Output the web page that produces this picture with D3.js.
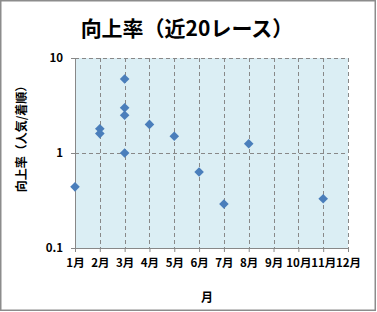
<!DOCTYPE html>
<html>
<head>
<meta charset="utf-8">
<script src="https://cdn.jsdelivr.net/npm/d3@7"></script>
<style>
  body { margin: 0; background: #fff; }
  text { font-family: "Noto Sans CJK JP", "Noto Sans", sans-serif; font-weight: bold; fill: #000; }
</style>
</head>
<body>
<div id="chart"></div>
<script>
// data: month and ratio (popularity / finish)
var months = [1, 2, 2, 3, 3, 3, 3, 4, 5, 6, 7, 8, 11];
var ratios = [0.44, 1.8, 1.6, 6, 3, 2.5, 1, 2, 1.5, 0.63, 0.29, 1.25, 0.33];
var monthTicks = [1, 2, 3, 4, 5, 6, 7, 8, 9, 10, 11, 12];
var yTicks = [0.1, 1, 10];
var yTickLabels = ["0.1", "1", "10"];

var W = 377, H = 312;
var margin = {top: 58, right: 29, bottom: 64, left: 75},
    width = W - margin.left - margin.right,
    height = H - margin.top - margin.bottom;

var svg = d3.select("#chart").append("svg")
    .attr("width", W)
    .attr("height", H);

// outer frame
svg.append("rect")
    .attr("x", 0.75).attr("y", 0.75)
    .attr("width", 374.5).attr("height", 309.5)
    .attr("fill", "#fff")
    .attr("stroke", "#8c8c8c")
    .attr("stroke-width", 1.5);

svg.append("text") // Title
    .attr("x", 187)
    .attr("y", 36)
    .attr("text-anchor", "middle")
    .style("font-size", "21px")
    .text("向上率（近20レース）");

var g = svg.append("g")
    .attr("transform", "translate(" + margin.left + "," + margin.top + ")");

var x = d3.scaleLinear().domain([1, 12]).range([0, width]);
var y = d3.scaleLog().domain([0.1, 10]).range([height, 0]);

g.append("rect")
    .attr("width", width)
    .attr("height", height)
    .attr("fill", "#dbeef4");

// dashed grid
g.selectAll(".vgrid").data(monthTicks.slice(1))
    .enter().append("line")
    .attr("class", "vgrid")
    .attr("x1", function(d) { return Math.round(x(d)) + 0.5; })
    .attr("x2", function(d) { return Math.round(x(d)) + 0.5; })
    .attr("y1", 0).attr("y2", height)
    .attr("stroke", "#888")
    .attr("stroke-dasharray", "4,3");

g.selectAll(".hgrid").data(yTicks.slice(1))
    .enter().append("line")
    .attr("class", "hgrid")
    .attr("x1", 0).attr("x2", width)
    .attr("y1", function(d) { return Math.round(y(d)) + 0.5; })
    .attr("y2", function(d) { return Math.round(y(d)) + 0.5; })
    .attr("stroke", "#888")
    .attr("stroke-dasharray", "4,3");

// axes
var yAxis = d3.axisLeft(y)
    .tickValues(yTicks)
    .tickFormat(function(d, i) { return yTickLabels[i]; })
    .tickSizeInner(4).tickSizeOuter(0).tickPadding(8);

var xAxis = d3.axisBottom(x)
    .tickValues(monthTicks)
    .tickFormat(function(d) { return d + "月"; })
    .tickSizeInner(4).tickSizeOuter(0).tickPadding(7);

var ya = g.append("g").call(yAxis);
var xa = g.append("g").attr("transform", "translate(0," + height + ")").call(xAxis);

[ya, xa].forEach(function(a) {
    a.select(".domain").attr("stroke", "#888");
    a.selectAll(".tick line").attr("stroke", "#888");
    a.selectAll("text")
        .attr("fill", "#000")
        .style("font-size", "11.5px")
        .style("font-weight", "bold")
        .style("font-family", '"Noto Sans CJK JP", sans-serif');
});

// points
g.selectAll(".pt").data(months)
    .enter().append("path")
    .attr("class", "pt")
    .attr("d", d3.symbol().type(d3.symbolSquare).size(46))
    .attr("transform", function(d, i) {
        return "translate(" + x(d) + "," + y(ratios[i]) + ") rotate(45)";
    })
    .attr("fill", "#4a7ebb");

svg.append("text") // y axis label
    .attr("transform", "translate(26,136) rotate(-90)")
    .attr("text-anchor", "middle")
    .style("font-size", "12px")
    .text("向上率（人気/着順）");

svg.append("text") // x axis label
    .attr("x", 207)
    .attr("y", 302)
    .attr("text-anchor", "middle")
    .style("font-size", "12px")
    .text("月");
</script>
</body>
</html>
